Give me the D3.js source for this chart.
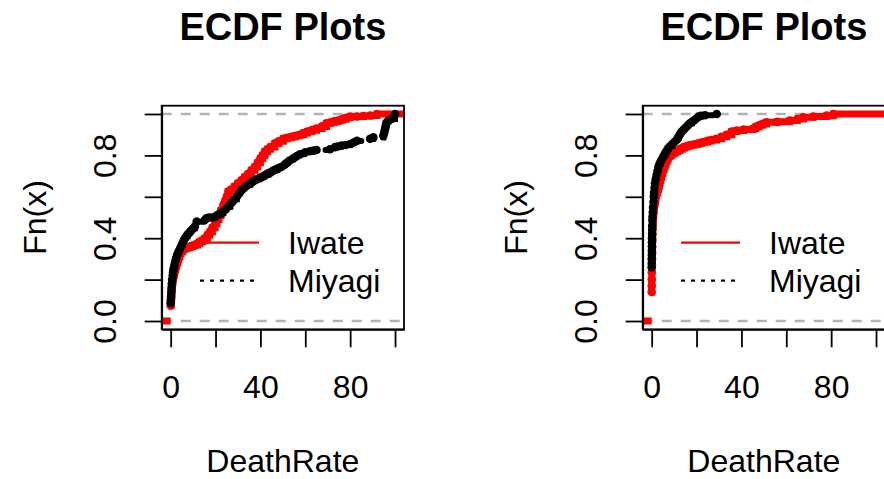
<!DOCTYPE html>
<html><head><meta charset="utf-8">
<script src="https://cdn.jsdelivr.net/npm/d3@7"></script>
<style>
html,body{margin:0;padding:0;background:#fff;}
svg text{font-family:"Liberation Sans",Arial,Helvetica,sans-serif;fill:#000;}
</style></head>
<body>
<svg id="chart" width="884" height="479"></svg>
<script>
// ---- data ----
const chartTitle = "ECDF Plots";
const xLabel = "DeathRate";
const yLabel = "Fn(x)";
const seriesNames = ["Iwate", "Miyagi"];
const xTicks = [0, 20, 40, 60, 80, 100];
const xTickLabels = ["0", "", "40", "", "80", ""];
const yTicks = [0, 0.2, 0.4, 0.6, 0.8, 1.0];
const yTickLabels = ["0.0", "", "0.4", "", "0.8", ""];

// Panel 1 : [DeathRate, Fn(x)]
const iwate1 = [[0,0.074],[0.1,0.09],[0.2,0.11],[0.3,0.13],[0.45,0.15],[0.6,0.17],[0.8,0.19],[1.0,0.205],[1.3,0.22],[1.6,0.235],[1.9,0.25],[2.3,0.265],[2.7,0.28],[3.1,0.295],[3.6,0.31],[4.1,0.325],[4.6,0.335],[5.2,0.343],[5.8,0.348],[6.4,0.352],[7.5,0.355],[8.6,0.36],[9.7,0.363],[10.8,0.367],[12.0,0.375],[13.0,0.383],[14.2,0.39],[15.3,0.40],[16.4,0.415],[17.5,0.43],[18.6,0.45],[19.8,0.47],[20.6,0.49],[21.5,0.51],[22.5,0.535],[23.5,0.56],[24.3,0.58],[25.0,0.60],[25.7,0.625],[27.0,0.635],[28.5,0.65],[30.0,0.665],[31.6,0.68],[33.0,0.695],[34.5,0.71],[36.0,0.728],[37.6,0.745],[38.8,0.765],[40.0,0.785],[41.0,0.80],[42.0,0.818],[43.2,0.83],[44.5,0.84],[46.5,0.858],[48.3,0.868],[50.2,0.88],[52.0,0.885],[54.0,0.89],[55.8,0.895],[57.6,0.90],[59.3,0.908],[61.0,0.915],[63.0,0.922],[65.0,0.93],[67.5,0.94],[69.5,0.955],[71.5,0.96],[73.0,0.965],[75.0,0.97],[76.5,0.975],[78.3,0.982],[80.0,0.987],[83.0,0.988],[86.0,0.99],[89.0,0.993],[92.0,1.0]];
const miyagi1 = [[0,0.086],[0.1,0.10],[0.2,0.12],[0.3,0.14],[0.4,0.16],[0.5,0.18],[0.7,0.20],[0.9,0.22],[1.05,0.235],[1.2,0.246],[1.5,0.26],[1.8,0.275],[2.1,0.29],[2.5,0.305],[2.9,0.32],[3.4,0.333],[3.9,0.343],[4.4,0.355],[4.9,0.367],[5.4,0.378],[5.9,0.39],[6.4,0.40],[7.0,0.41],[7.6,0.418],[8.2,0.425],[8.8,0.433],[9.4,0.44],[10.1,0.448],[10.8,0.456],[11.6,0.48],[15.2,0.488],[16.0,0.496],[17.0,0.50],[18.5,0.50],[19.8,0.503],[20.6,0.51],[21.5,0.515],[22.5,0.52],[23.5,0.53],[24.6,0.54],[25.7,0.552],[26.6,0.565],[27.5,0.575],[28.5,0.588],[29.5,0.60],[30.5,0.615],[31.6,0.633],[32.5,0.64],[33.5,0.65],[34.5,0.658],[35.5,0.665],[36.5,0.672],[37.6,0.68],[38.5,0.685],[39.5,0.69],[40.5,0.695],[41.5,0.70],[42.5,0.707],[43.5,0.713],[44.5,0.718],[45.5,0.725],[46.5,0.73],[47.5,0.735],[48.5,0.74],[49.5,0.745],[51.0,0.758],[52.0,0.765],[53.0,0.775],[54.7,0.786],[56.0,0.795],[57.6,0.805],[59.9,0.815],[62.0,0.82],[63.6,0.823],[65.0,0.826],[71.0,0.83],[73.3,0.84],[74.5,0.843],[76.2,0.847],[78.0,0.85],[80.0,0.855],[81.5,0.862],[83.0,0.87],[88.9,0.88],[90.3,0.887],[94.8,0.895],[95.2,0.91],[95.5,0.925],[95.8,0.94],[96.1,0.955],[96.5,0.962],[97.2,0.968],[98.5,0.976],[100,1.0]];

// Panel 2 : [DeathRate, Fn(x)]
const iwate2 = [[0,0.14],[0.02,0.17],[0.05,0.20],[0.08,0.235],[0.12,0.27],[0.16,0.30],[0.2,0.33],[0.25,0.36],[0.3,0.39],[0.36,0.42],[0.43,0.45],[0.52,0.475],[0.62,0.50],[0.75,0.52],[0.9,0.536],[1.1,0.555],[1.3,0.57],[1.55,0.585],[1.8,0.60],[2.0,0.61],[2.2,0.62],[2.6,0.635],[3.0,0.65],[3.4,0.665],[3.7,0.68],[4.1,0.695],[4.5,0.713],[5.0,0.73],[5.5,0.745],[6.0,0.758],[6.4,0.77],[6.9,0.782],[7.4,0.794],[8.1,0.80],[8.8,0.807],[9.6,0.812],[10.4,0.818],[11.5,0.824],[12.5,0.83],[13.6,0.836],[14.8,0.842],[16.2,0.846],[17.5,0.85],[19.2,0.854],[20.8,0.858],[22.2,0.862],[23.5,0.865],[25.0,0.87],[26.7,0.874],[29.0,0.88],[31.2,0.89],[33.5,0.90],[35.7,0.915],[38.0,0.92],[41.0,0.925],[45.3,0.93],[46.5,0.938],[48.0,0.945],[49.5,0.952],[51.2,0.96],[56.0,0.962],[61.6,0.968],[65.0,0.976],[67.6,0.984],[72.0,0.988],[78.0,0.992],[81.0,1.0]];
const miyagi2 = [[0,0.26],[0.02,0.28],[0.04,0.30],[0.06,0.32],[0.08,0.34],[0.1,0.36],[0.12,0.38],[0.15,0.40],[0.18,0.42],[0.21,0.44],[0.24,0.46],[0.3,0.488],[0.38,0.505],[0.5,0.525],[0.65,0.55],[0.8,0.575],[0.95,0.60],[1.1,0.62],[1.3,0.643],[1.5,0.665],[1.8,0.685],[2.2,0.705],[2.6,0.725],[3.0,0.745],[3.5,0.758],[4.0,0.77],[4.6,0.782],[5.2,0.794],[5.8,0.805],[6.3,0.815],[6.9,0.825],[7.4,0.834],[8.3,0.845],[9.2,0.855],[10.1,0.865],[11.1,0.874],[11.7,0.885],[12.2,0.895],[12.8,0.905],[13.4,0.915],[14.3,0.925],[15.2,0.935],[16.1,0.945],[17.1,0.955],[18.0,0.962],[19.0,0.97],[19.9,0.978],[20.8,0.987],[22.0,0.991],[23.8,0.994],[29.0,1.0]];

// ---- drawing ----
const svg = d3.select("#chart");
const FONT_TICK = 32, FONT_TITLE = 38, FONT_LEG = 32;
const LW = 7, PR = 4.3;

function drawPanel(dx, iwate, miyagi) {
  const g = svg.append("g").attr("transform", `translate(${dx},0)`);
  const x = d3.scaleLinear().domain([-4, 104]).range([161.7, 404]);
  const y = d3.scaleLinear().domain([-0.04, 1.04]).range([329.3, 105.7]);
  const [x0, x1] = x.domain();

  const cid = "clip" + dx;
  g.append("clipPath").attr("id", cid).append("rect")
    .attr("x", x(x0)).attr("y", y(1.04)).attr("width", x(x1) - x(x0)).attr("height", y(-0.04) - y(1.04));
  const plot = g.append("g").attr("clip-path", `url(#${cid})`);

  // gray dashed 0/1 lines
  [0, 1].forEach(v => {
    plot.append("line").attr("x1", x(x0)).attr("x2", x(x1)).attr("y1", y(v)).attr("y2", y(v))
      .attr("stroke", "#b3b3b3").attr("stroke-width", 2.5).attr("stroke-dasharray", "10,9");
  });

  const step = d3.line().x(d => x(d[0])).y(d => y(d[1])).curve(d3.curveStepAfter);

  // Iwate: red solid; left stub at 0 and right extension at 1
  plot.append("line").attr("x1", x(x0)).attr("x2", x(iwate[0][0])).attr("y1", y(0)).attr("y2", y(0))
    .attr("stroke", "#ff0000").attr("stroke-width", LW);
  plot.append("path").attr("d", step([...iwate, [x1, 1]])).attr("fill", "none")
    .attr("stroke", "#ff0000").attr("stroke-width", LW);
  plot.selectAll("circle.iw").data(iwate).join("circle").attr("class", "iw")
    .attr("cx", d => x(d[0])).attr("cy", d => y(d[1])).attr("r", PR).attr("fill", "#ff0000");

  // Miyagi: black dotted with points
  plot.append("path").attr("d", step(miyagi)).attr("fill", "none")
    .attr("stroke", "#000").attr("stroke-width", LW - 1).attr("stroke-linecap", "round")
    .attr("stroke-dasharray", "3,11");
  plot.selectAll("circle.mi").data(miyagi).join("circle").attr("class", "mi")
    .attr("cx", d => x(d[0])).attr("cy", d => y(d[1])).attr("r", PR).attr("fill", "#000");

  // box
  g.append("rect").attr("x", x(x0)).attr("y", y(1.04)).attr("width", x(x1) - x(x0)).attr("height", y(-0.04) - y(1.04))
    .attr("fill", "none").attr("stroke", "#000").attr("stroke-width", 1.8);

  // x axis
  const xa = g.append("g").attr("transform", `translate(0,${y(-0.04)})`)
    .call(d3.axisBottom(x).tickValues(xTicks).tickSize(18).tickSizeOuter(0)
      .tickFormat((d, i) => xTickLabels[i]));
  xa.select(".domain").attr("stroke-width", 1.8);
  xa.selectAll(".tick line").attr("stroke-width", 1.8);
  xa.selectAll("text").attr("dy", null).attr("y", 69).attr("font-size", FONT_TICK)
    .attr("font-family", null).attr("fill", "#000");

  // y axis
  const ya = g.append("g").attr("transform", `translate(${x(x0)},0)`)
    .call(d3.axisLeft(y).tickValues(yTicks).tickSize(17).tickSizeOuter(0)
      .tickFormat((d, i) => yTickLabels[i]));
  ya.select(".domain").attr("stroke-width", 1.8);
  ya.selectAll(".tick line").attr("stroke-width", 1.8);
  ya.selectAll("text").attr("x", null).attr("dy", null)
    .attr("transform", `translate(${116 - 161.7},0) rotate(-90)`)
    .attr("text-anchor", "middle").attr("font-size", FONT_TICK)
    .attr("font-family", null).attr("fill", "#000");

  const cx = (x(x0) + x(x1)) / 2;
  g.append("text").attr("x", cx).attr("y", 40).attr("text-anchor", "middle")
    .attr("font-size", FONT_TITLE).attr("font-weight", "bold").text(chartTitle);
  g.append("text").attr("x", cx).attr("y", 472).attr("text-anchor", "middle")
    .attr("font-size", FONT_TICK).text(xLabel);
  g.append("text").attr("transform", `translate(46,${y(0.5)}) rotate(-90)`).attr("text-anchor", "middle")
    .attr("font-size", FONT_TICK).text(yLabel);

  // legend (no box)
  const leg = g.append("g");
  const rows = [
    {name: seriesNames[0], color: "#ff0000", dash: null, yy: 242.7},
    {name: seriesNames[1], color: "#000", dash: "4,6", yy: 280.7}
  ];
  rows.forEach(r => {
    leg.append("line").attr("x1", 200).attr("x2", 259).attr("y1", r.yy).attr("y2", r.yy)
      .attr("stroke", r.color).attr("stroke-width", 2.2).attr("stroke-dasharray", r.dash);
    leg.append("text").attr("x", 288).attr("y", r.yy + 11.5).attr("font-size", FONT_LEG).text(r.name);
  });
}

drawPanel(0, iwate1, miyagi1);
drawPanel(481, iwate2, miyagi2);
</script>
</body></html>
